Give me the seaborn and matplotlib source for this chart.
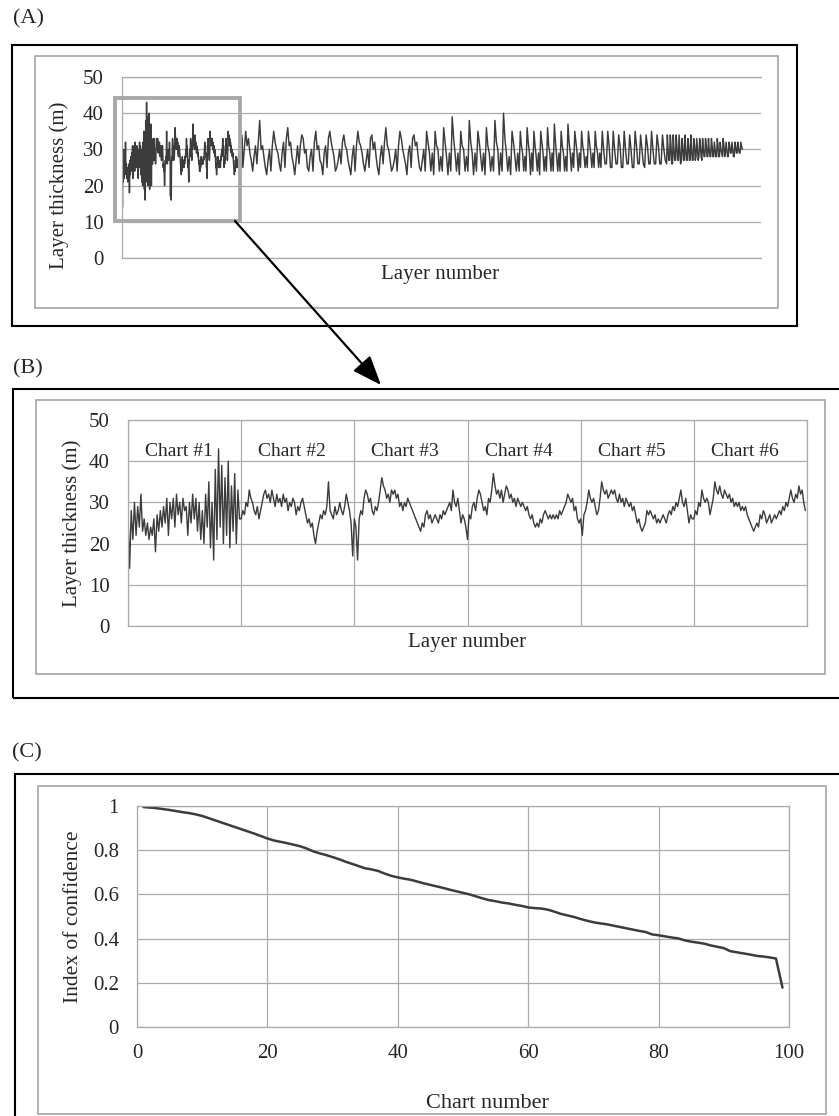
import numpy as np
import matplotlib
matplotlib.use("Agg")
import matplotlib.pyplot as plt
import seaborn as sns
from matplotlib.patches import Rectangle, FancyArrowPatch

sns.set_style("white")
plt.rcParams['font.family'] = ['Liberation Serif', 'DejaVu Serif']

# ---------------- data ----------------
# Panel B: first six charts (layer thickness, m)
chart1 = [27,14,28,21,30,22,29,24,32,23,26,22,25,21,24,22,26,18,27,23,28,24,29,25,31,22,30,26,31,24,
          32,27,30,25,31,28,29,22,30,25,32,26,31,23,30,21,28,20,32,24,35,19,30,16,38,21,43,24,39,20,
          36,22,40,19,34,23,37,20,33,26]
chart2 = [26,28,27,30,29,33,31,30,28,27,29,26,28,30,32,33,31,32,30,33,31,29,32,30,31,29,32,30,31,28,
          30,29,31,30,27,29,28,30,31,29,27,25,26,24,25,22,20,23,25,27,26,28,27,29,35,28,27,26,29,27,
          28,30,28,27,29,32,30,28,25,17]
chart3 = [26,24,16,26,28,27,31,33,32,30,31,28,27,29,28,30,33,36,34,33,31,32,30,33,32,33,31,32,29,30,
          28,30,29,31,30,29,28,27,26,25,24,23,25,24,27,28,26,27,25,26,27,26,25,27,26,28,27,28,29,30,
          28,33,30,29,31,28,25,27,26,24]
chart4 = [21,27,26,29,30,28,31,33,32,30,28,29,27,31,30,33,37,34,32,33,31,33,30,32,34,33,31,32,30,31,
          29,31,30,29,30,29,28,29,27,26,27,25,24,25,24,26,25,27,28,27,26,27,26,27,26,27,26,28,27,28,
          29,30,32,31,30,31,28,29,26,25]
chart5 = [26,22,27,28,30,33,31,30,31,29,27,28,31,35,33,32,33,31,32,33,32,33,31,30,32,30,31,29,31,30,
          29,30,28,29,27,25,26,24,23,24,25,28,27,28,27,26,27,25,26,25,26,27,26,25,27,28,27,29,28,30,
          29,31,33,30,29,31,28,25,27,26]
chart6 = [26,28,27,30,29,33,31,30,31,30,27,29,31,35,33,32,34,32,31,33,32,31,32,30,31,29,30,29,30,28,
          29,28,29,27,26,25,24,23,24,25,24,27,26,28,27,25,26,27,25,26,27,26,27,28,27,29,28,30,29,31,
          33,31,30,32,31,34,32,33,30,28]
chart_names = ["Chart #1", "Chart #2", "Chart #3", "Chart #4", "Chart #5", "Chart #6"]

# Panel A: remaining charts (7-19: 10 readings each, 20-42: 6 each, 43-80: 4 each)
teeth_7_19 = [25,30,35,31,33,29,27,24,28,31,
              26,32,38,30,31,28,25,23,27,30,
              24,31,35,32,30,29,26,24,29,32,
              25,33,36,31,32,28,26,23,27,31,
              26,31,34,33,29,30,25,24,28,30,
              24,32,35,30,31,27,26,23,29,31,
              25,33,35,32,30,28,24,25,27,30,
              26,32,34,31,30,27,25,23,28,31,
              24,31,35,32,31,29,26,24,27,30,
              25,33,34,30,32,28,25,23,28,31,
              26,32,36,31,30,27,24,25,27,30,
              24,31,35,33,30,28,26,23,29,31,
              25,33,34,31,32,28,25,24,27,30]
teeth_20_42 = [24,35,32,29,24,29, 23,35,31,30,24,28, 24,36,32,28,23,29, 24,39,33,29,24,29,
               23,35,31,30,24,28, 24,38,32,29,23,29, 24,35,32,28,24,29, 23,36,31,29,24,28,
               24,38,32,30,23,29, 24,40,33,29,24,28, 23,35,32,28,24,29, 24,35,31,29,24,28,
               24,36,32,29,23,29, 24,35,31,28,24,29, 23,35,32,29,24,28, 24,36,31,29,24,29,
               24,37,32,28,24,29, 24,35,31,29,24,28, 24,37,32,29,24,29, 25,35,32,29,24,29,
               25,35,31,29,25,28, 25,35,32,29,25,29, 25,35,31,29,25,29]
teeth_43_80 = [25,35,30,26, 26,35,31,25, 25,35,30,26, 26,34,31,25, 25,35,30,26, 26,34,30,25,
               25,35,31,26, 26,34,30,26, 25,34,31,26, 26,35,30,26, 26,34,31,26, 26,34,30,27,
               26,34,30,27, 27,34,31,26, 26,34,30,27, 27,34,31,27, 27,34,30,26, 27,33,31,27,
               27,34,30,27, 27,33,31,27, 27,34,30,27, 27,33,31,27, 28,33,30,27, 28,33,31,28,
               27,33,30,28, 28,33,31,28, 28,33,30,28, 28,33,31,28, 28,32,30,28, 28,33,31,28,
               28,32,30,29, 28,33,31,28, 29,32,30,28, 28,32,31,29, 29,32,30,28, 28,32,31,29,
               29,32,30,29, 29,32,31,30]
# layers per chart (charts 1..80)
chart_layers = [230,135,135,135,135,135,
                105,105,105,105,105,105,105,105,105,105,105,105,105,
                64,64,64,64,64,64,64,64,64,64,64,
                51,51,51,51,51,51,51,51,51,51,51,51,
                41,41,41,41,41,41,41,41,41,41,41,41,
                22,22,22,22,22,22,22,22,22,22,22,22,22,22,22,22,22,22,22,22,22,22,22,22,22,22]

# Panel C: index of confidence per chart
chart_number = list(range(1, 100))
confidence = [0.995,0.993,0.990,0.986,0.982,0.977,0.972,0.968,0.962,0.955,
              0.945,0.935,0.925,0.915,0.905,0.895,0.885,0.875,0.864,0.853,
              0.844,0.838,0.832,0.825,0.818,0.808,0.795,0.786,0.778,0.769,
              0.759,0.748,0.738,0.728,0.718,0.713,0.706,0.694,0.684,0.677,
              0.671,0.666,0.658,0.650,0.643,0.636,0.629,0.621,0.614,0.607,
              0.600,0.591,0.582,0.574,0.569,0.563,0.559,0.553,0.548,0.541,
              0.538,0.536,0.531,0.522,0.512,0.505,0.498,0.489,0.481,0.474,
              0.469,0.465,0.459,0.453,0.447,0.441,0.435,0.430,0.419,0.415,
              0.410,0.405,0.401,0.392,0.386,0.382,0.377,0.369,0.363,0.357,
              0.343,0.338,0.333,0.328,0.322,0.319,0.315,0.310,0.178]

thick_ticks = [0, 10, 20, 30, 40, 50]
conf_ticks = [0, 0.2, 0.4, 0.6, 0.8, 1]
conf_tick_labels = ["0", "0.2", "0.4", "0.6", "0.8", "1"]
chart_ticks = [0, 20, 40, 60, 80, 100]

# ---------------- figure ----------------
W, H = 839, 1116
fig = plt.figure(figsize=(W / 100, H / 100), dpi=100)
LINE = '#3c3c3c'
GRID = '#ababab'
BOXG = '#9c9c9c'


def rect(x0, y0, x1, y1):
    return [x0 / W, 1 - y1 / H, (x1 - x0) / W, (y1 - y0) / H]


def fig_box(x0, y0, x1, y1, color, lw):
    fig.add_artist(Rectangle((x0 / W, 1 - y1 / H), (x1 - x0) / W, (y1 - y0) / H,
                             transform=fig.transFigure, fill=False, ec=color, lw=lw,
                             zorder=5, clip_on=False))


def style_axes(ax):
    ax.set_facecolor('none')
    ax.set_axisbelow(True)
    for s in ax.spines.values():
        s.set_color(GRID)
        s.set_linewidth(0.9)


# ---- Panel A ----
segments = [chart1, chart2, chart3, chart4, chart5, chart6]
segments += [teeth_7_19[i:i + 10] for i in range(0, len(teeth_7_19), 10)]
segments += [teeth_20_42[i:i + 6] for i in range(0, len(teeth_20_42), 6)]
segments += [teeth_43_80[i:i + 4] for i in range(0, len(teeth_43_80), 4)]
xa, ya = [], []
start = 0.0
for seg, L in zip(segments, chart_layers):
    n = len(seg)
    xa.extend(start + np.arange(n) * L / n)
    ya.extend(seg)
    start += L
total_layers = start

axA = fig.add_axes(rect(122, 77, 761, 258))
style_axes(axA)
sns.lineplot(x=np.array(xa), y=np.array(ya), ax=axA, color=LINE, lw=1.05,
             estimator=None, sort=False)
axA.set_xlim(0, total_layers * (761 - 122) / 621)
axA.set_ylim(0, 50)
axA.set_yticks(thick_ticks)
axA.set_xticks([])
axA.grid(True, axis='y', color=GRID, lw=0.9)
axA.spines['right'].set_visible(False)
axA.tick_params(axis='y', length=0, pad=13, labelsize=15)
axA.set_ylabel('Layer thickness (m)', fontsize=15, va='center')
axA.yaxis.set_label_coords((59 - 122) / 639, (258 - 185) / 181)
axA.set_xlabel('Layer number', fontsize=15, va='center')
axA.xaxis.set_label_coords((440 - 122) / 639, (258 - 275) / 181)

# ---- Panel B ----
axB = fig.add_axes(rect(128, 420, 807, 626))
style_axes(axB)
xb, yb = [], []
for i, seg in enumerate(segments[:6]):
    n = len(seg)
    xb.extend(i + np.arange(n) / n)
    yb.extend(seg)
sns.lineplot(x=np.array(xb), y=np.array(yb), ax=axB, color=LINE, lw=1.0,
             estimator=None, sort=False)
axB.set_xlim(0, 6)
axB.set_ylim(0, 50)
axB.set_yticks(thick_ticks)
axB.set_xticks(range(7))
axB.set_xticklabels([])
axB.grid(True, color=GRID, lw=0.9)
axB.tick_params(axis='both', length=0)
axB.tick_params(axis='y', pad=13, labelsize=15)
for i, name in enumerate(chart_names):
    axB.text(i + 0.45, 42.3, name, ha='center', va='center', fontsize=14)
axB.set_ylabel('Layer thickness (m)', fontsize=15, va='center')
axB.yaxis.set_label_coords((72 - 128) / 679, 0.5)
axB.set_xlabel('Layer number', fontsize=15, va='center')
axB.xaxis.set_label_coords((467 - 128) / 679, (626 - 643) / 206)

# ---- Panel C ----
axC = fig.add_axes(rect(137, 806, 789, 1027))
style_axes(axC)
sns.lineplot(x=chart_number, y=confidence, ax=axC, color=LINE, lw=1.8,
             estimator=None, sort=False)
axC.set_xlim(0, 100)
axC.set_ylim(0, 1)
axC.set_xticks(chart_ticks)
axC.set_yticks(conf_ticks)
axC.set_yticklabels(conf_tick_labels)
axC.grid(True, color=GRID, lw=0.9)
axC.tick_params(axis='both', length=4, width=0.9, color=GRID, labelsize=15)
axC.tick_params(axis='y', pad=9)
axC.tick_params(axis='x', pad=8)
axC.set_ylabel('Index of confidence', fontsize=15.5, va='center')
axC.yaxis.set_label_coords((74 - 137) / 652, 0.5)
axC.set_xlabel('Chart number', fontsize=16, va='center')
axC.xaxis.set_label_coords((487 - 137) / 652, (1027 - 1103) / 221)

# ---- frames, labels, zoom box and arrow ----
fig_box(12, 45, 797, 326, 'black', 1.5)
fig_box(35, 56, 778, 308, BOXG, 1.1)
fig_box(13, 389, 845, 698, 'black', 1.5)
fig_box(36, 400, 825, 674, BOXG, 1.1)
fig_box(15, 774, 845, 1130, 'black', 1.5)
fig_box(38, 786, 826, 1114, BOXG, 1.1)
fig_box(115, 98, 240, 221, '#a8a8a8', 2.8)

fig.text(13 / W, 1 - 19 / H, '(A)', ha='left', va='center', fontsize=16)
fig.text(13 / W, 1 - 369 / H, '(B)', ha='left', va='center', fontsize=16)
fig.text(12 / W, 1 - 753 / H, '(C)', ha='left', va='center', fontsize=16)

arrow = FancyArrowPatch((235 / W, 1 - 221 / H), (381 / W, 1 - 385 / H),
                        transform=fig.transFigure,
                        arrowstyle='-|>,head_length=0.9,head_width=0.35',
                        mutation_scale=20, lw=1.6, color='black',
                        shrinkA=0, shrinkB=0, zorder=6)
fig.add_artist(arrow)

fig.savefig('out.png', dpi=100)
